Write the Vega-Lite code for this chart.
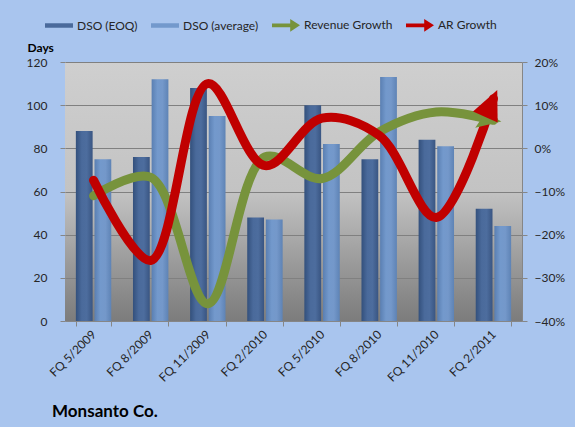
{
  "$schema": "https://vega.github.io/schema/vega-lite/v6.json",
  "width": 457,
  "height": 259,
  "autosize": "none",
  "padding": {"left": 65, "top": 62, "right": 53, "bottom": 106},
  "background": "#a9c5ee",
  "config": {
    "font": "Lato",
    "view": {
      "stroke": null,
      "fill": {"gradient": "linear", "x1": 0, "y1": 0, "x2": 0, "y2": 1,
        "stops": [{"offset": 0, "color": "#cfcfcf"}, {"offset": 0.5, "color": "#c3c3c3"}, {"offset": 0.78, "color": "#9a9a9a"}, {"offset": 1, "color": "#7c7c7c"}]}
    },
    "axis": {"labelFont": "Lato", "labelFontSize": 12, "labelColor": "#262626", "tickColor": "#868686", "domainColor": "#868686", "tickSize": 5}
  },
  "datasets": {
    "bars": [
      {"period": "FQ 5/2009", "series": "DSO (EOQ)", "days": 88},
      {"period": "FQ 5/2009", "series": "DSO (average)", "days": 75},
      {"period": "FQ 8/2009", "series": "DSO (EOQ)", "days": 76},
      {"period": "FQ 8/2009", "series": "DSO (average)", "days": 112},
      {"period": "FQ 11/2009", "series": "DSO (EOQ)", "days": 108},
      {"period": "FQ 11/2009", "series": "DSO (average)", "days": 95},
      {"period": "FQ 2/2010", "series": "DSO (EOQ)", "days": 48},
      {"period": "FQ 2/2010", "series": "DSO (average)", "days": 47},
      {"period": "FQ 5/2010", "series": "DSO (EOQ)", "days": 100},
      {"period": "FQ 5/2010", "series": "DSO (average)", "days": 82},
      {"period": "FQ 8/2010", "series": "DSO (EOQ)", "days": 75},
      {"period": "FQ 8/2010", "series": "DSO (average)", "days": 113},
      {"period": "FQ 11/2010", "series": "DSO (EOQ)", "days": 84},
      {"period": "FQ 11/2010", "series": "DSO (average)", "days": 81},
      {"period": "FQ 2/2011", "series": "DSO (EOQ)", "days": 52},
      {"period": "FQ 2/2011", "series": "DSO (average)", "days": 44}
    ],
    "growth": [
      {"period": "FQ 5/2009", "series": "Revenue Growth", "growth": -0.11},
      {"period": "FQ 8/2009", "series": "Revenue Growth", "growth": -0.067},
      {"period": "FQ 11/2009", "series": "Revenue Growth", "growth": -0.36},
      {"period": "FQ 2/2010", "series": "Revenue Growth", "growth": -0.02},
      {"period": "FQ 5/2010", "series": "Revenue Growth", "growth": -0.07},
      {"period": "FQ 8/2010", "series": "Revenue Growth", "growth": 0.038},
      {"period": "FQ 11/2010", "series": "Revenue Growth", "growth": 0.084},
      {"period": "FQ 2/2011", "series": "Revenue Growth", "growth": 0.065},
      {"period": "FQ 5/2009", "series": "AR Growth", "growth": -0.074},
      {"period": "FQ 8/2009", "series": "AR Growth", "growth": -0.26},
      {"period": "FQ 11/2009", "series": "AR Growth", "growth": 0.15},
      {"period": "FQ 2/2010", "series": "AR Growth", "growth": -0.04},
      {"period": "FQ 5/2010", "series": "AR Growth", "growth": 0.07},
      {"period": "FQ 8/2010", "series": "AR Growth", "growth": 0.03},
      {"period": "FQ 11/2010", "series": "AR Growth", "growth": -0.16},
      {"period": "FQ 2/2011", "series": "AR Growth", "growth": 0.115}
    ]
  },
  "title": {
    "text": "Monsanto Co.",
    "orient": "bottom",
    "anchor": "start",
    "frame": "group",
    "font": "Lato",
    "fontSize": 17,
    "fontWeight": "bold",
    "color": "#000000",
    "dx": -13,
    "offset": 21
  },
  "layer": [
    {
      "data": {"name": "bars"},
      "mark": {"type": "bar", "strokeWidth": 0},
      "encoding": {
        "x": {
          "field": "period", "type": "nominal",
          "scale": {"domain": ["FQ 5/2009", "FQ 8/2009", "FQ 11/2009", "FQ 2/2010", "FQ 5/2010", "FQ 8/2010", "FQ 11/2010", "FQ 2/2011"], "paddingInner": 0.38, "paddingOuter": 0.19},
          "axis": {"title": null, "labelAngle": -45, "labelAlign": "right", "labelBaseline": "middle", "labelPadding": 6, "tickBand": "extent", "domain": true, "ticks": true}
        },
        "xOffset": {"field": "series", "type": "nominal", "scale": {"domain": ["DSO (EOQ)", "DSO (average)"], "paddingInner": 0.1}},
        "y": {
          "field": "days", "type": "quantitative",
          "scale": {"domain": [0, 120]},
          "axis": {"values": [0, 20, 40, 60, 80, 100, 120], "grid": true, "gridColor": "#808080", "gridOpacity": 1, "domain": false, "labelPadding": 13,
            "title": "Days", "titleAngle": 0, "titleAlign": "left", "titleBaseline": "middle", "titleX": -38, "titleY": -15, "titleFont": "Lato", "titleFontSize": 12, "titleFontWeight": "bold", "titleColor": "#000000"}
        },
        "fill": {
          "condition": {"test": "datum.series === 'DSO (EOQ)'", "value": {"gradient": "linear", "x1": 0, "y1": 0, "x2": 1, "y2": 0,
            "stops": [{"offset": 0, "color": "#33507c"}, {"offset": 0.35, "color": "#4a6a9b"}, {"offset": 0.65, "color": "#4d6d9e"}, {"offset": 1, "color": "#395582"}]}},
          "value": {"gradient": "linear", "x1": 0, "y1": 0, "x2": 1, "y2": 0,
            "stops": [{"offset": 0, "color": "#5a7fb2"}, {"offset": 0.35, "color": "#7399cc"}, {"offset": 0.65, "color": "#7498ca"}, {"offset": 1, "color": "#5e83b5"}]}
        }
      }
    },
    {
      "data": {"name": "growth"},
      "layer": [
        {
          "mark": {"type": "line", "interpolate": "catmull-rom", "strokeWidth": 9, "strokeCap": "round"},
          "encoding": {
            "x": {"field": "period", "type": "nominal"},
            "y": {"field": "growth", "type": "quantitative", "scale": {"domain": [-0.4, 0.2]},
              "axis": {"orient": "right", "format": ".0%", "values": [-0.4, -0.3, -0.2, -0.1, 0, 0.1, 0.2], "grid": false, "domain": true, "labelPadding": 7, "title": null}},
            "color": {
              "field": "series", "type": "nominal",
              "scale": {"domain": ["DSO (EOQ)", "DSO (average)", "Revenue Growth", "AR Growth"], "range": ["#4a6a9b", "#7399cc", "#77933c", "#c00000"]},
              "legend": {
                "title": null, "orient": "none", "legendX": -20, "legendY": -51, "direction": "horizontal", "columns": 4, "columnPadding": 13,
                "padding": 0, "symbolSize": 784, "labelFont": "Lato", "labelFontSize": 12, "labelColor": "#262626", "labelOffset": 4,
                "encode": {"symbols": {"update": {
                  "shape": {"signal": "datum.value === 'Revenue Growth' || datum.value === 'AR Growth' ? 'M-1,-0.14 L0.3,-0.14 L0.3,-0.45 L1,0 L0.3,0.45 L0.3,0.14 L-1,0.14 Z' : 'M-1,-0.16 L1,-0.16 L1,0.16 L-1,0.16 Z'"},
                  "fill": {"scale": "color", "field": "value"},
                  "stroke": {"value": "transparent"},
                  "strokeWidth": {"value": 0},
                  "opacity": {"value": 1}
                }}}
              }
            }
          }
        },
        {
          "transform": [{"filter": "datum.series === 'Revenue Growth' && datum.period === 'FQ 2/2011'"}],
          "mark": {"type": "point", "filled": true, "opacity": 1, "size": 400, "angle": 98, "shape": "M0,-0.8 L1.0,1.7 L0,1.2 L-1.0,1.7 Z"},
          "encoding": {
            "x": {"field": "period", "type": "nominal"},
            "y": {"field": "growth", "type": "quantitative", "scale": {"domain": [-0.4, 0.2]}},
            "color": {"field": "series", "type": "nominal"}
          }
        },
        {
          "transform": [{"filter": "datum.series === 'AR Growth' && datum.period === 'FQ 2/2011'"}],
          "mark": {"type": "point", "filled": true, "opacity": 1, "size": 550, "angle": 24, "shape": "M0,-0.8 L1.15,1.7 L-1.15,1.7 Z"},
          "encoding": {
            "x": {"field": "period", "type": "nominal"},
            "y": {"field": "growth", "type": "quantitative", "scale": {"domain": [-0.4, 0.2]}},
            "color": {"field": "series", "type": "nominal"}
          }
        }
      ]
    }
  ],
  "resolve": {"scale": {"y": "independent"}}
}
